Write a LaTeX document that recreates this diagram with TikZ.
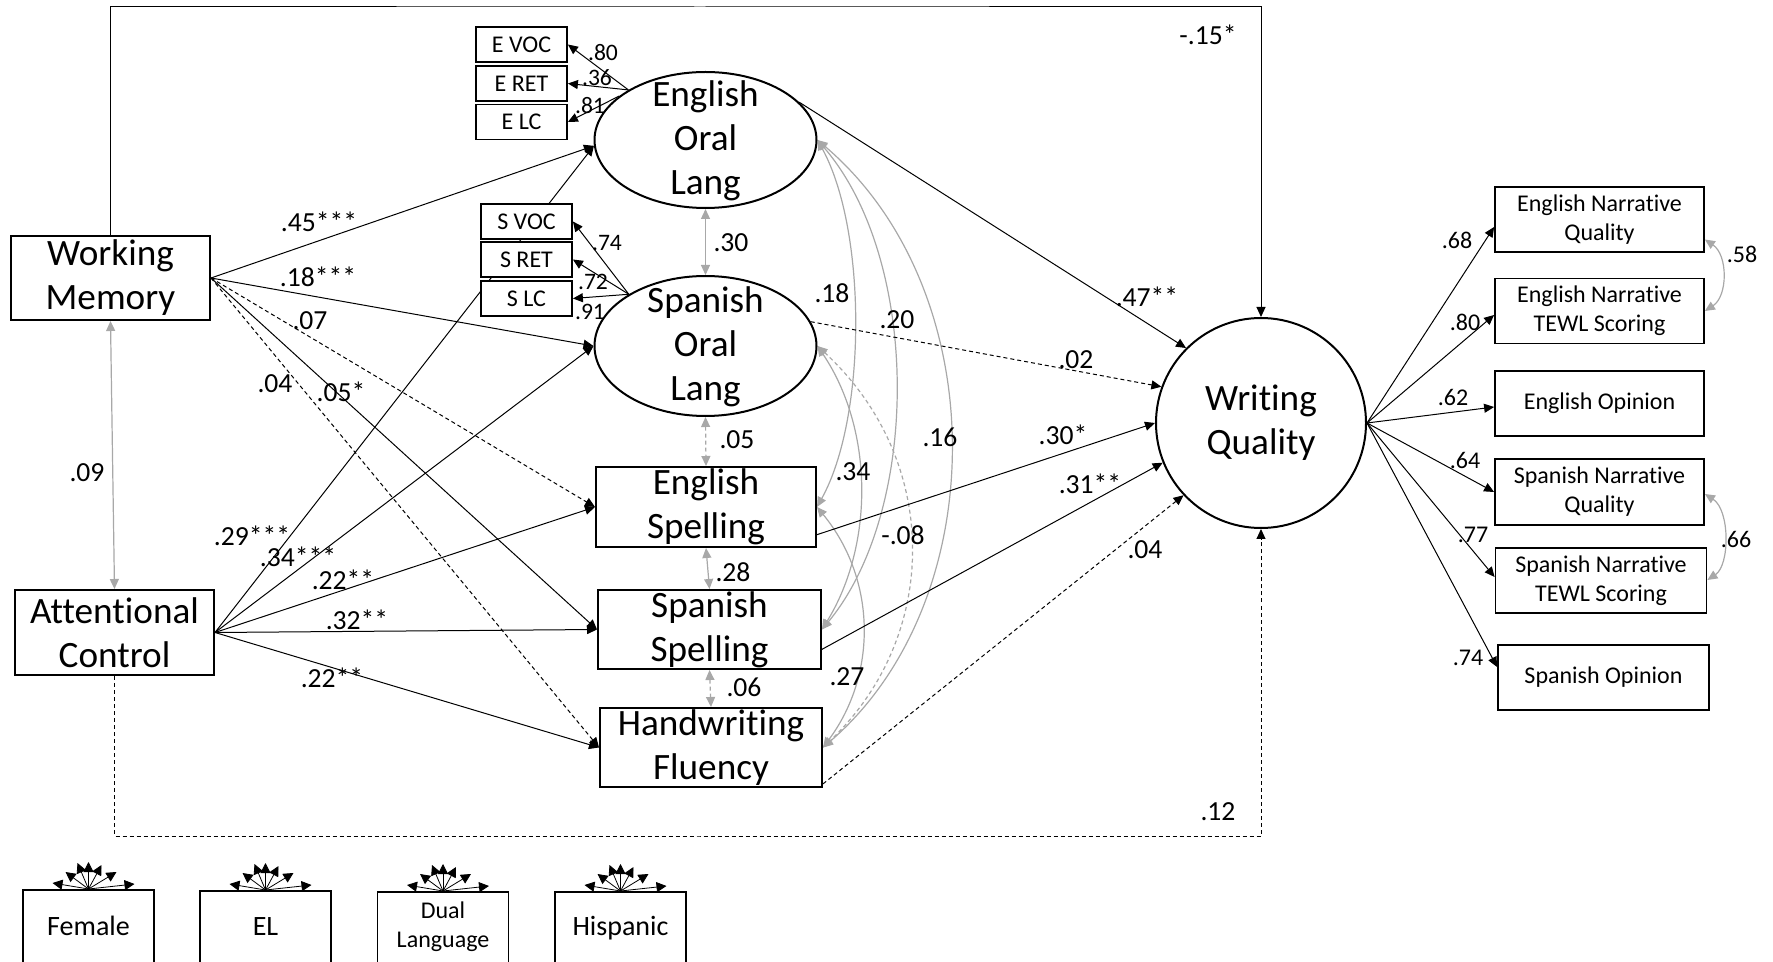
\documentclass[tikz,border=0pt]{standalone}
\usepackage{fontspec}
\setmainfont{Carlito}[Ligatures={NoCommon}]
\usetikzlibrary{arrows.meta,shapes.geometric}
\pgfdeclarelayer{bg}
\pgfsetlayers{bg,main}
\definecolor{covgray}{RGB}{168,168,168}
\newcommand{\fsMain}{\fontsize{18.6pt}{22pt}\selectfont}
\newcommand{\fsLab}{\fontsize{13.8pt}{16pt}\selectfont}
\newcommand{\fsSmall}{\fontsize{12pt}{14.6pt}\selectfont}
\newcommand{\fsLoad}{\fontsize{11.8pt}{13pt}\selectfont}
\newcommand{\fsCov}{\fontsize{14pt}{17pt}\selectfont}
\begin{document}
\begin{tikzpicture}[x=0.5pt,y=-0.5pt,
  >={Triangle[length=5pt,width=4.5pt]},
  box/.style={draw, line width=1pt, fill=white, inner sep=0pt, align=center, font=\fsMain},
  ind/.style={draw, line width=0.9pt, fill=white, inner sep=0pt, minimum width=45.5pt, minimum height=17.5pt, font=\fsSmall},
  outbox/.style={draw, line width=0.9pt, fill=white, inner sep=0pt, align=center, minimum width=104.5pt, minimum height=32.5pt, font=\fsSmall},
  lat/.style={draw, ellipse, line width=1pt, fill=white, inner sep=0pt},
  txt/.style={inner sep=0pt, align=center, font=\fsMain},
  lab/.style={inner sep=0pt, font=\fsLab},
  load/.style={inner sep=0pt, font=\fsLoad},
  rload/.style={inner sep=0pt, font=\fsSmall},
  pth/.style={->, line width=0.5pt, draw=black},
  dpth/.style={pth, dash pattern=on 2pt off 1.5pt},
  cov/.style={<->, line width=0.6pt, draw=covgray},
  dcov/.style={cov, dash pattern=on 2pt off 1.5pt},
  covbox/.style={draw, line width=0.9pt, minimum width=65.5pt, minimum height=50pt, inner sep=0pt, anchor=north},
  covtxt/.style={inner sep=0pt, align=center},
  fan/.style={->, line width=0.4pt, >={Triangle[length=5pt,width=5pt]}}
]
\useasboundingbox (0,0) rectangle (1773,962);

% ---------- nodes ----------
\node[box, minimum width=99.5pt, minimum height=42pt] (WM) at (110.5,278) {Working\\Memory};
\node[box, minimum width=99.5pt, minimum height=42.5pt] (AC) at (114.5,632.5) {Attentional\\Control};

\node[ind] (EVOC) at (521.5,44.5) {E VOC};
\node[ind] (ERET) at (521.5,83.5) {E RET};
\node[ind] (ELC) at (521.5,122) {E LC};
\node[ind] (SVOC) at (526.5,221.5) {S VOC};
\node[ind] (SRET) at (526.5,259.5) {S RET};
\node[ind] (SLC) at (526.5,298.5) {S LC};

\node[lat, minimum width=111pt, minimum height=68pt] (EOL) at (705.5,140) {};
\node[txt] (EOLt) at (705.5,141) {English\\Oral\\Lang};
\node[lat, minimum width=111pt, minimum height=70pt] (SOL) at (705.5,346) {};
\node[txt] (SOLt) at (705.5,347) {Spanish\\Oral\\Lang};

\node[box, minimum width=110pt, minimum height=40pt] (ES) at (706,507) {English\\Spelling};
\node[box, minimum width=111.5pt, minimum height=39.5pt] (SS) at (709.5,629.5) {Spanish\\Spelling};
\node[box, minimum width=111pt, minimum height=39.5pt] (HF) at (711,747.5) {Handwriting\\Fluency};

\node[draw, circle, line width=1pt, fill=white, minimum size=105pt, inner sep=0pt, align=center, font=\fsMain] (WQ) at (1261,423) {Writing\\Quality};

\node[outbox] (ENQ) at (1599.5,219.5) {English Narrative\\Quality};
\node[outbox] (ENT) at (1599.5,311) {English Narrative\\TEWL Scoring};
\node[outbox] (EO) at (1599.5,403.5) {English Opinion};
\node[outbox, minimum height=33pt] (SNQ) at (1599.5,492) {Spanish Narrative\\Quality};
\node[outbox, minimum width=105.5pt] (SNT) at (1601,580.5) {Spanish Narrative\\TEWL Scoring};
\node[outbox, minimum width=105.5pt] (SO) at (1603.5,677.5) {Spanish Opinion};

\node[covbox] (Female) at (88.5,889) {};
\node[covbox] (EL) at (265.5,890) {};
\node[covbox] (Dual) at (443,891) {};
\node[covbox] (Hisp) at (620.5,891) {};
\node[covtxt, font=\fsCov] (Femalet) at (88.5,926) {Female};
\node[covtxt, font=\fsCov] (ELt) at (265.5,927) {EL};
\node[covtxt, font=\fsSmall] (Dualt) at (443,927) {Dual\\Language};
\node[covtxt, font=\fsCov] (Hispt) at (620.5,928) {Hispanic};

\coordinate (topc) at (700,7);
\coordinate (botc) at (700,836);

% ---------- connectors ----------
\begin{pgfonlayer}{bg}
\draw[pth] (WM.north) |- (topc) -| (WQ.north);
\draw[dpth] (AC.south) |- (botc) -| (WQ.south);
\draw[cov] (WM.south) -- (AC.north);

\draw[pth] (WM.east) -- (EOL.183);
\draw[pth] (WM.east) -- (SOL.west);
\draw[dpth] (WM.east) -- (ES.west);
\draw[pth] (WM.east) -- (SS.west);
\draw[dpth] (WM.east) -- (HF.west);

\draw[pth] (AC.east) -- (EOL.183);
\draw[pth] (AC.east) -- (SOL.west);
\draw[pth] (AC.east) -- (ES.west);
\draw[pth] (AC.east) -- (SS.west);
\draw[pth] (AC.east) -- (HF.west);

\draw[pth] (EOL.147) -- (EVOC.east);
\draw[pth] (EOL.147) -- (ERET.east);
\draw[pth] (EOL.153) -- (ELC.east);
\draw[pth] (SOL.146) -- (SVOC.east);
\draw[pth] (SOL.146) -- (SRET.east);
\draw[pth] (SOL.146) -- (SLC.east);

\draw[cov] (EOL.south) -- (SOL.north);
\draw[dcov] (SOL.south) -- (ES.north);
\draw[cov] (ES.south) -- (SS.north);
\draw[dcov] (SS.south) -- (HF.north);

\draw[cov] (EOL.east) .. controls (867,230) and (867,417) .. (ES.east);
\draw[cov] (EOL.east) .. controls (921,260) and (921,510) .. (SS.east);
\draw[cov] (EOL.east) .. controls (994,290) and (994,600) .. (HF.east);
\draw[cov] (SOL.east) .. controls (874,430) and (874,545) .. (SS.east);
\draw[dcov] (SOL.east) .. controls (941,460) and (941,635) .. (HF.east);
\draw[cov] (ES.east) .. controls (877,580) and (877,675) .. (HF.east);

\draw[pth] (EOL.22) -- (WQ.135);
\draw[dpth] (SOL.13) -- (WQ.160);
\draw[pth] (ES.-14) -- (WQ.180);
\draw[pth] (SS.-10) -- (WQ.202);
\draw[dpth] (HF.-18) -- (WQ.223);

\draw[pth] (WQ.east) -- ([yshift=-3.75pt]ENQ.west);
\draw[pth] (WQ.east) -- ([yshift=-2pt]ENT.west);
\draw[pth] (WQ.east) -- ([yshift=-1.75pt]EO.west);
\draw[pth] (WQ.east) -- (SNQ.west);
\draw[pth] (WQ.east) -- ([yshift=1.75pt]SNT.west);
\draw[pth] (WQ.east) -- ([yshift=5.25pt]SO.west);

\draw[cov] ([yshift=-10pt]ENQ.east) .. controls (1728,255) and (1728,296) .. (ENT.east);
\draw[cov] ([yshift=-1pt]SNQ.east) .. controls (1730,510) and (1730,565) .. ([yshift=0.25pt]SNT.east);

\foreach \c in {Female,EL,Dual,Hisp}{
  \foreach \dx/\dy in {-36/-6,-23/-17,-11/-26,0/-27,13/-24,28/-17,46/-5}
    \draw[fan] (\c.north) -- ++(\dx,\dy);
}
\end{pgfonlayer}

% ---------- labels ----------
\node[lab] (lA) at (1208,35) {-.15*};
\node[lab] (lB) at (1218,812) {.12};
\node[lab] (lC) at (87,473) {.09};
\node[lab] (lD) at (319,222) {.45***};
\node[lab] (lE) at (318,277) {.18***};
\node[lab] (lF) at (310,321) {.07};
\node[lab] (lG) at (341,392) {.05*};
\node[lab] (lH) at (275,384) {.04};
\node[lab] (lI) at (252,536) {.29***};
\node[lab] (lJ) at (298,557) {.34***};
\node[lab] (lK) at (343,580) {.22**};
\node[lab] (lL) at (357,620) {.32**};
\node[lab] (lM) at (332,678) {.22**};

\node[load] (mA) at (603,53) {.80};
\node[load] (mB) at (597,78) {.36};
\node[load] (mC) at (590,106) {.81};
\node[load] (mD) at (607,243) {.74};
\node[load] (mE) at (593,282) {.72};
\node[load] (mF) at (590,312) {.91};

\node[lab] (cA) at (731,243) {.30};
\node[lab] (cB) at (737,440) {.05};
\node[lab] (cC) at (733,572) {.28};
\node[lab] (cD) at (744,687) {.06};
\node[lab] (cE) at (832,293) {.18};
\node[lab] (cF) at (897,320) {.20};
\node[lab] (cG) at (940,437) {.16};
\node[lab] (cH) at (853,472) {.34};
\node[lab] (cI) at (903,535) {-.08};
\node[lab] (cJ) at (847,677) {.27};

\node[lab] (wA) at (1147,297) {.47**};
\node[lab] (wB) at (1076,360) {.02};
\node[lab] (wC) at (1063,435) {.30*};
\node[lab] (wD) at (1090,484) {.31**};
\node[lab] (wE) at (1145,550) {.04};

\node[rload] (oA) at (1457,240) {.68};
\node[rload] (oB) at (1465,322) {.80};
\node[rload] (oC) at (1453,397) {.62};
\node[rload] (oD) at (1465,460) {.64};
\node[rload] (oE) at (1473,535) {.77};
\node[rload] (oF) at (1468,658) {.74};
\node[rload] (oG) at (1742,254) {.58};
\node[rload] (oH) at (1736,539) {.66};
\end{tikzpicture}
\end{document}
